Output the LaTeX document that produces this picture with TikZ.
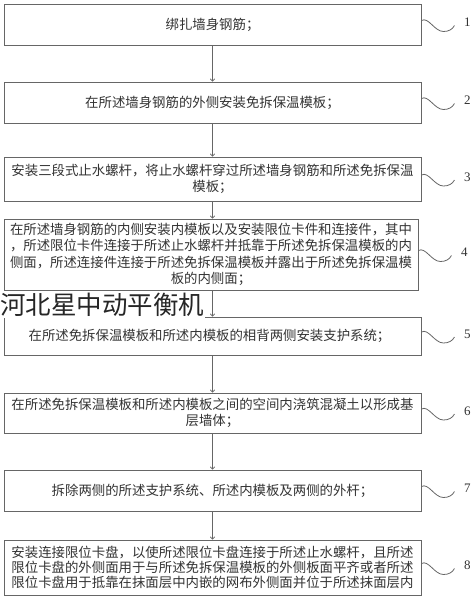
\documentclass[tikz,border=0pt]{standalone}
\usepackage{fontspec}
\newfontfamily\cjk{Noto Sans CJK SC}
\newfontfamily\numfont{Liberation Serif}
\usetikzlibrary{arrows.meta,calc}
\definecolor{ln}{HTML}{666666}
\definecolor{tx}{HTML}{333333}
\tikzset{
  box/.style={draw=ln, line width=0.9pt, minimum width=417pt, inner sep=0pt,
    align=center, text=tx, font=\cjk\fontsize{13.4}{15.5}\selectfont},
  arr/.style={draw=ln, line width=0.7pt, -{To[length=3pt,width=5pt]}},
  sq/.style={draw=ln, line width=0.8pt},
  lab/.style={text=tx, font=\numfont\fontsize{13}{15}\selectfont, inner sep=0pt},
  wm/.style={fill=white, text=black!85, inner sep=1pt, font=\cjk\fontsize{25.5}{28}\selectfont}
}
\newcommand\mysquig[2]{%
  \draw[sq] ([yshift=4pt]#1.east) .. controls +(7,-4) and +(-9,0) ..
    ([xshift=22pt,yshift=-7pt]#1.east) .. controls +(5,0) and +(-2,4) ..
    ([xshift=33pt,yshift=-1pt]#1.east);
  \node[lab] (l#1) at ([xshift=46pt,yshift=2pt]#1.east) {#2};}
\begin{document}
\begin{tikzpicture}[x=1pt,y=-1pt]
\useasboundingbox[fill=white] (0,0) rectangle (476,600);
\node[box, minimum height=41pt] (b1) at (212.5,24.5) {绑扎墙身钢筋；};
\node[box, minimum height=41pt] (b2) at (212.5,102.5) {在所述墙身钢筋的外侧安装免拆保温模板；};
\node[box, minimum height=44pt] (b3) at (212.5,179) {安装三段式止水螺杆，将止水螺杆穿过所述墙身钢筋和所述免拆保温\\模板；};
\node[box, minimum height=71pt, minimum width=414pt, font=\cjk\fontsize{13.4}{16.5}\selectfont] (b4) at (211,254.5) {在所述墙身钢筋的内侧安装内模板以及安装限位卡件和连接件，其中\\，所述限位卡件连接于所述止水螺杆并抵靠于所述免拆保温模板的内\\侧面，所述连接件连接于所述免拆保温模板并露出于所述免拆保温模\\板的内侧面；};
\node[box, minimum height=38pt] (b5) at (212.5,336) {在所述免拆保温模板和所述内模板的相背两侧安装支护系统；\hspace{6pt}};
\node[box, minimum height=40pt] (b6) at (212.5,413) {在所述免拆保温模板和所述内模板之间的空间内浇筑混凝土以形成基\\层墙体；};
\node[box, minimum height=41pt] (b7) at (212.5,490.5) {拆除两侧的所述支护系统、所述内模板及两侧的外杆；};
\node[box, minimum height=55pt, font=\cjk\fontsize{13.4}{15}\selectfont] (b8) at (212.5,567.5) {安装连接限位卡盘，以使所述限位卡盘连接于所述止水螺杆，且所述\\限位卡盘的外侧面用于与所述免拆保温模板的外侧板面平齐或者所述\\限位卡盘用于抵靠在抹面层中内嵌的网布外侧面并位于所述抹面层内};
\draw[arr] (b1.south) -- (b2.north);
\draw[arr] (b2.south) -- (b3.north);
\draw[arr] (b3.south) -- (b4.north -| b3.south);
\draw[arr] (b4.south -| b3.south) -- (b5.north);
\draw[arr] (b5.south) -- (b6.north);
\draw[arr] (b6.south) -- (b7.north);
\draw[arr] (b7.south) -- (b8.north);
\mysquig{b1}{1}
\mysquig{b2}{2}
\mysquig{b3}{3}
\mysquig{b4}{4}
\mysquig{b5}{5}
\mysquig{b6}{6}
\mysquig{b7}{7}
\mysquig{b8}{8}
\node[wm, anchor=west] (wm) at (-1,305) {河北星中动平衡机};
\end{tikzpicture}
\end{document}
